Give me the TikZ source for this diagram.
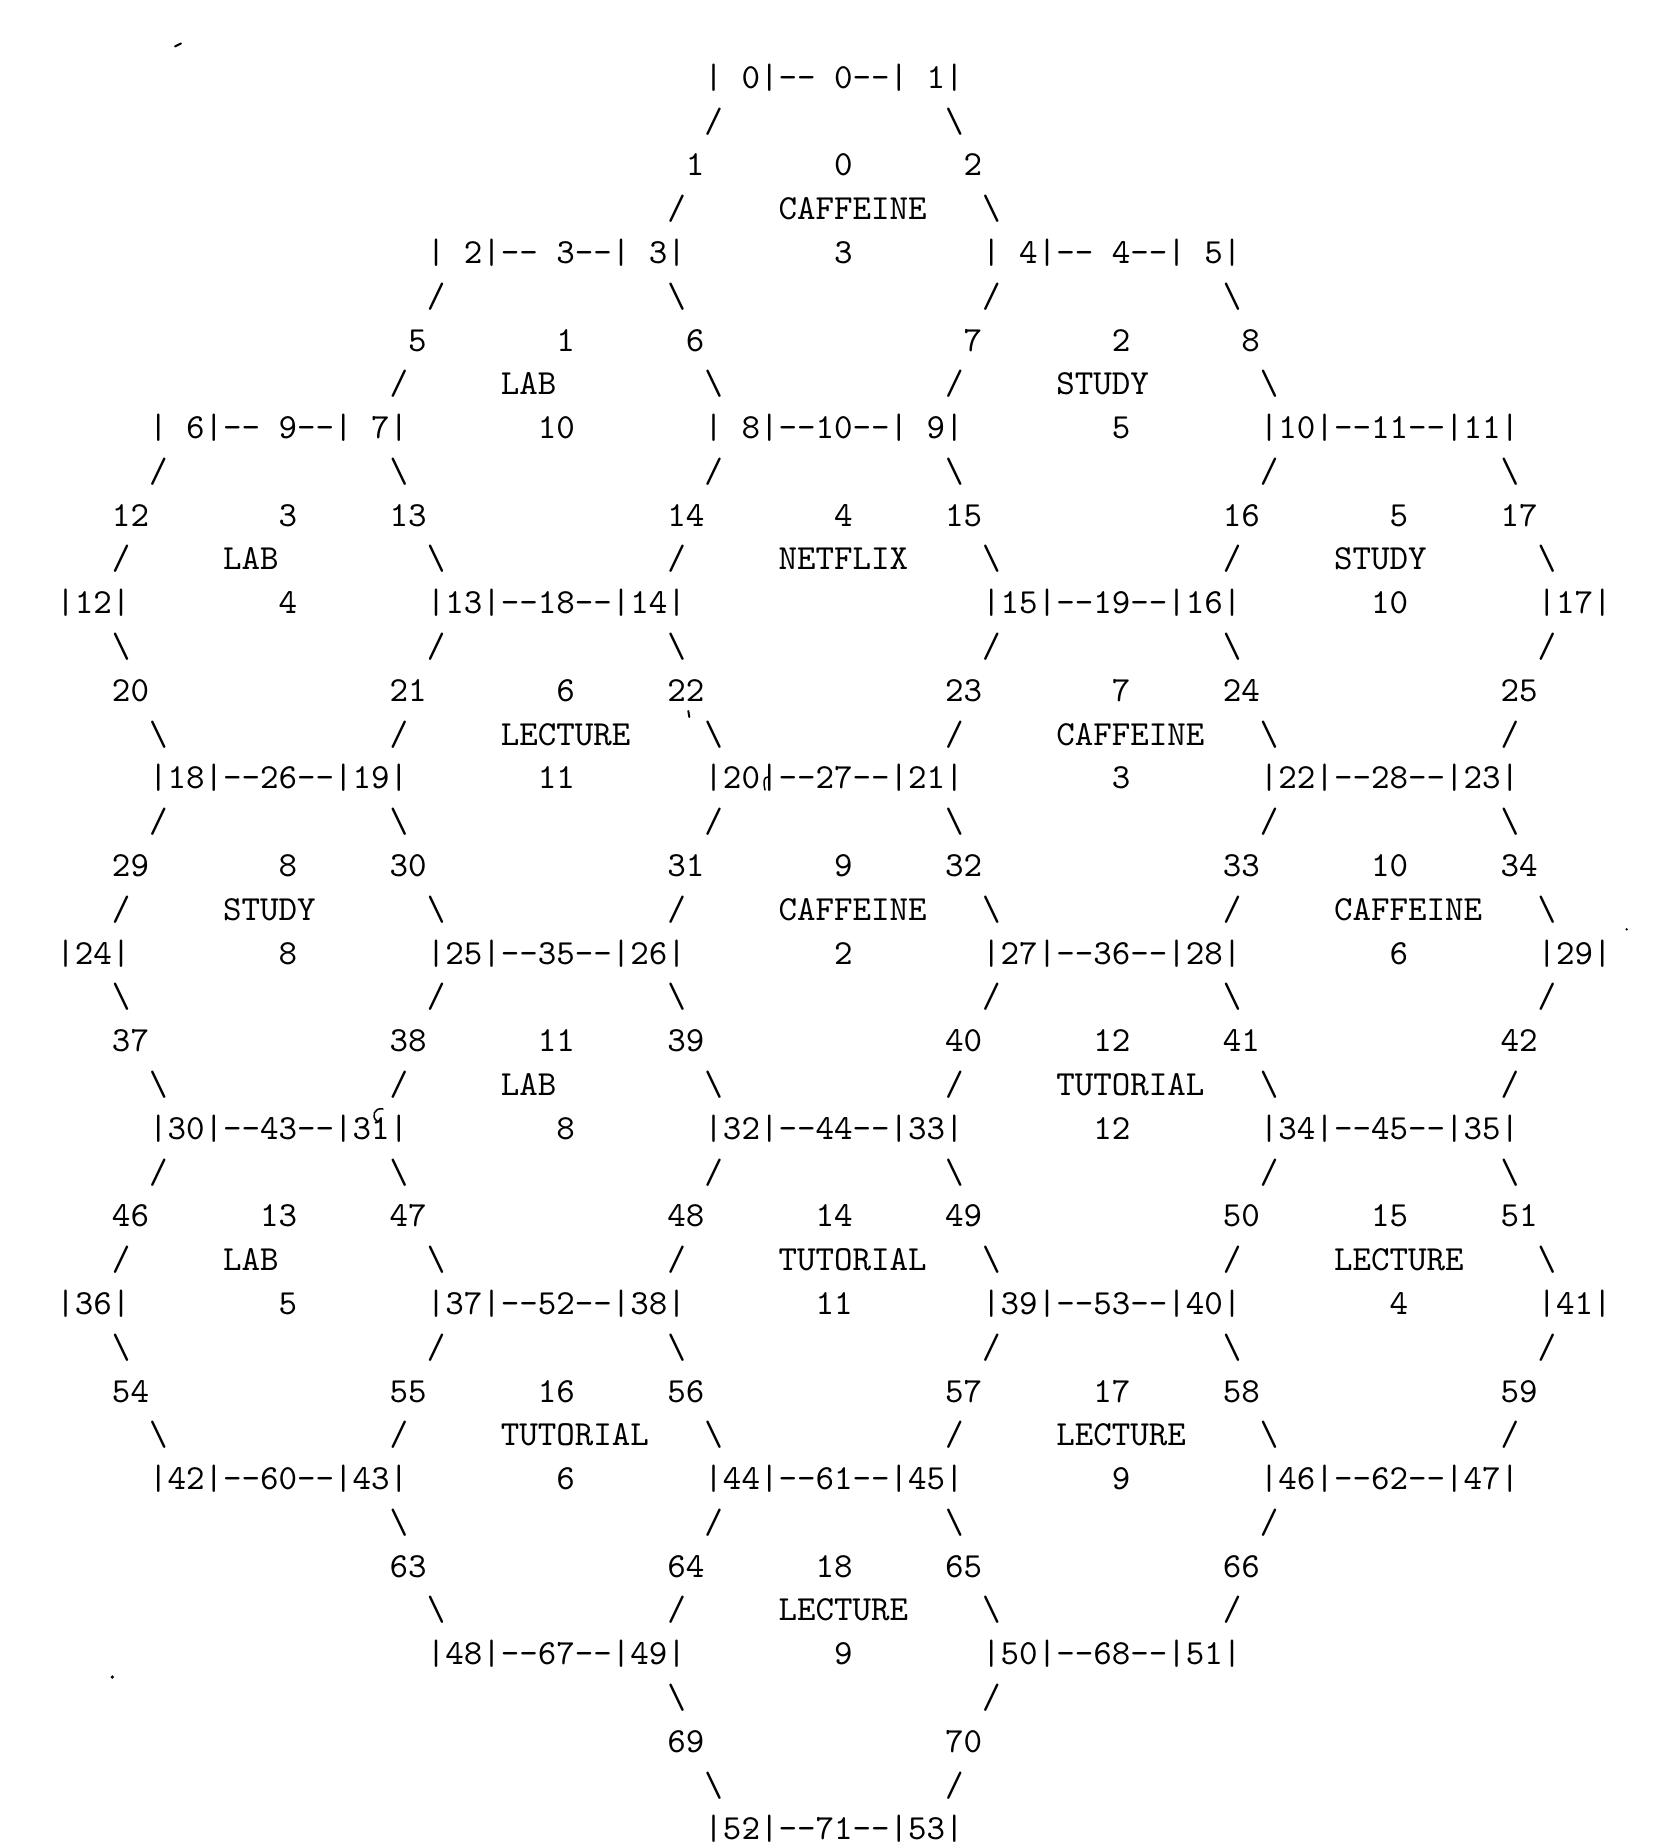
\documentclass[tikz,border=0pt]{standalone}
\newcommand\dsh{\mbox{-}\mbox{-}}
\newcommand\bs{\textbackslash}
\tikzset{
  txt/.style={font=\fontsize{10.58}{12}\selectfont\ttfamily, anchor=base west, inner sep=0pt, outer sep=0pt},
  speck/.style={line width=0.6pt, line cap=round}
}
\newcommand\T[3]{\node[txt] (t#2-#1) at ({56.44+#1*18.515},{88.3+(#2-1)*43.79}) {#3};}
\begin{document}
\begin{tikzpicture}[x=0.3pt,y=-0.3pt]
\useasboundingbox (0,0) rectangle (1668,1848);
% row 1-4
\T{35}{1}{|~0|\dsh~0\dsh|~1|}
\T{35}{2}{/}\T{48}{2}{\bs}
\T{34}{3}{1}\T{42}{3}{0}\T{49}{3}{2}
\T{33}{4}{/}\T{39}{4}{CAFFEINE}\T{50}{4}{\bs}
% row 5-8
\T{20}{5}{|~2|\dsh~3\dsh|~3|}\T{42}{5}{3}\T{50}{5}{|~4|\dsh~4\dsh|~5|}
\T{20}{6}{/}\T{33}{6}{\bs}\T{50}{6}{/}\T{63}{6}{\bs}
\T{19}{7}{5}\T{27}{7}{1}\T{34}{7}{6}\T{49}{7}{7}\T{57}{7}{2}\T{64}{7}{8}
\T{18}{8}{/}\T{24}{8}{LAB}\T{35}{8}{\bs}\T{48}{8}{/}\T{54}{8}{STUDY}\T{65}{8}{\bs}
% row 9-12
\T{5}{9}{|~6|\dsh~9\dsh|~7|}\T{26}{9}{10}\T{35}{9}{|~8|\dsh10\dsh|~9|}\T{57}{9}{5}\T{65}{9}{|10|\dsh11\dsh|11|}
\T{5}{10}{/}\T{18}{10}{\bs}\T{35}{10}{/}\T{48}{10}{\bs}\T{65}{10}{/}\T{78}{10}{\bs}
\T{3}{11}{12}\T{12}{11}{3}\T{18}{11}{13}\T{33}{11}{14}\T{42}{11}{4}\T{48}{11}{15}\T{63}{11}{16}\T{72}{11}{5}\T{78}{11}{17}
\T{3}{12}{/}\T{9}{12}{LAB}\T{20}{12}{\bs}\T{33}{12}{/}\T{39}{12}{NETFLIX}\T{50}{12}{\bs}\T{63}{12}{/}\T{69}{12}{STUDY}\T{80}{12}{\bs}
% row 13-16
\T{0}{13}{|12|}\T{12}{13}{4}\T{20}{13}{|13|\dsh18\dsh|14|}\T{50}{13}{|15|\dsh19\dsh|16|}\T{71}{13}{10}\T{80}{13}{|17|}
\T{3}{14}{\bs}\T{20}{14}{/}\T{33}{14}{\bs}\T{50}{14}{/}\T{63}{14}{\bs}\T{80}{14}{/}
\T{3}{15}{20}\T{18}{15}{21}\T{27}{15}{6}\T{33}{15}{22}\T{48}{15}{23}\T{57}{15}{7}\T{63}{15}{24}\T{78}{15}{25}
\T{5}{16}{\bs}\T{18}{16}{/}\T{24}{16}{LECTURE}\T{35}{16}{\bs}\T{48}{16}{/}\T{54}{16}{CAFFEINE}\T{65}{16}{\bs}\T{78}{16}{/}
% row 17-20
\T{5}{17}{|18|\dsh26\dsh|19|}\T{26}{17}{11}\T{35}{17}{|20|\dsh27\dsh|21|}\T{57}{17}{3}\T{65}{17}{|22|\dsh28\dsh|23|}
\T{5}{18}{/}\T{18}{18}{\bs}\T{35}{18}{/}\T{48}{18}{\bs}\T{65}{18}{/}\T{78}{18}{\bs}
\T{3}{19}{29}\T{12}{19}{8}\T{18}{19}{30}\T{33}{19}{31}\T{42}{19}{9}\T{48}{19}{32}\T{63}{19}{33}\T{71}{19}{10}\T{78}{19}{34}
\T{3}{20}{/}\T{9}{20}{STUDY}\T{20}{20}{\bs}\T{33}{20}{/}\T{39}{20}{CAFFEINE}\T{50}{20}{\bs}\T{63}{20}{/}\T{69}{20}{CAFFEINE}\T{80}{20}{\bs}
% row 21-24
\T{0}{21}{|24|}\T{12}{21}{8}\T{20}{21}{|25|\dsh35\dsh|26|}\T{42}{21}{2}\T{50}{21}{|27|\dsh36\dsh|28|}\T{72}{21}{6}\T{80}{21}{|29|}
\T{3}{22}{\bs}\T{20}{22}{/}\T{33}{22}{\bs}\T{50}{22}{/}\T{63}{22}{\bs}\T{80}{22}{/}
\T{3}{23}{37}\T{18}{23}{38}\T{26}{23}{11}\T{33}{23}{39}\T{48}{23}{40}\T{56}{23}{12}\T{63}{23}{41}\T{78}{23}{42}
\T{5}{24}{\bs}\T{18}{24}{/}\T{24}{24}{LAB}\T{35}{24}{\bs}\T{48}{24}{/}\T{54}{24}{TUTORIAL}\T{65}{24}{\bs}\T{78}{24}{/}
% row 25-28
\T{5}{25}{|30|\dsh43\dsh|31|}\T{27}{25}{8}\T{35}{25}{|32|\dsh44\dsh|33|}\T{56}{25}{12}\T{65}{25}{|34|\dsh45\dsh|35|}
\T{5}{26}{/}\T{18}{26}{\bs}\T{35}{26}{/}\T{48}{26}{\bs}\T{65}{26}{/}\T{78}{26}{\bs}
\T{3}{27}{46}\T{11}{27}{13}\T{18}{27}{47}\T{33}{27}{48}\T{41}{27}{14}\T{48}{27}{49}\T{63}{27}{50}\T{71}{27}{15}\T{78}{27}{51}
\T{3}{28}{/}\T{9}{28}{LAB}\T{20}{28}{\bs}\T{33}{28}{/}\T{39}{28}{TUTORIAL}\T{50}{28}{\bs}\T{63}{28}{/}\T{69}{28}{LECTURE}\T{80}{28}{\bs}
% row 29-32
\T{0}{29}{|36|}\T{12}{29}{5}\T{20}{29}{|37|\dsh52\dsh|38|}\T{41}{29}{11}\T{50}{29}{|39|\dsh53\dsh|40|}\T{72}{29}{4}\T{80}{29}{|41|}
\T{3}{30}{\bs}\T{20}{30}{/}\T{33}{30}{\bs}\T{50}{30}{/}\T{63}{30}{\bs}\T{80}{30}{/}
\T{3}{31}{54}\T{18}{31}{55}\T{26}{31}{16}\T{33}{31}{56}\T{48}{31}{57}\T{56}{31}{17}\T{63}{31}{58}\T{78}{31}{59}
\T{5}{32}{\bs}\T{18}{32}{/}\T{24}{32}{TUTORIAL}\T{35}{32}{\bs}\T{48}{32}{/}\T{54}{32}{LECTURE}\T{65}{32}{\bs}\T{78}{32}{/}
% row 33-36
\T{5}{33}{|42|\dsh60\dsh|43|}\T{27}{33}{6}\T{35}{33}{|44|\dsh61\dsh|45|}\T{57}{33}{9}\T{65}{33}{|46|\dsh62\dsh|47|}
\T{18}{34}{\bs}\T{35}{34}{/}\T{48}{34}{\bs}\T{65}{34}{/}
\T{18}{35}{63}\T{33}{35}{64}\T{41}{35}{18}\T{48}{35}{65}\T{63}{35}{66}
\T{20}{36}{\bs}\T{33}{36}{/}\T{39}{36}{LECTURE}\T{50}{36}{\bs}\T{63}{36}{/}
% row 37-41
\T{20}{37}{|48|\dsh67\dsh|49|}\T{42}{37}{9}\T{50}{37}{|50|\dsh68\dsh|51|}
\T{33}{38}{\bs}\T{50}{38}{/}
\T{33}{39}{69}\T{48}{39}{70}
\T{35}{40}{\bs}\T{48}{40}{/}
\T{35}{41}{|52|\dsh71\dsh|53|}
% stray specks
\draw[speck] (175,46.5) -- (181,43.5);
\draw[speck] (688.3,711) -- (689.3,717);
\draw[speck, line width=0.45pt] (768,777) .. controls (764,777) and (763,781) .. (765,790);
\draw[speck, line width=0.45pt] (383,1109) .. controls (374,1107) and (371,1117) .. (377,1121);
\draw[speck, line width=0.45pt] (746.5,1830) -- (751.5,1829.5);
\fill (112.3,1677) circle (1.8);
\fill (1626.7,929.3) circle (1.3);
\end{tikzpicture}
\end{document}
